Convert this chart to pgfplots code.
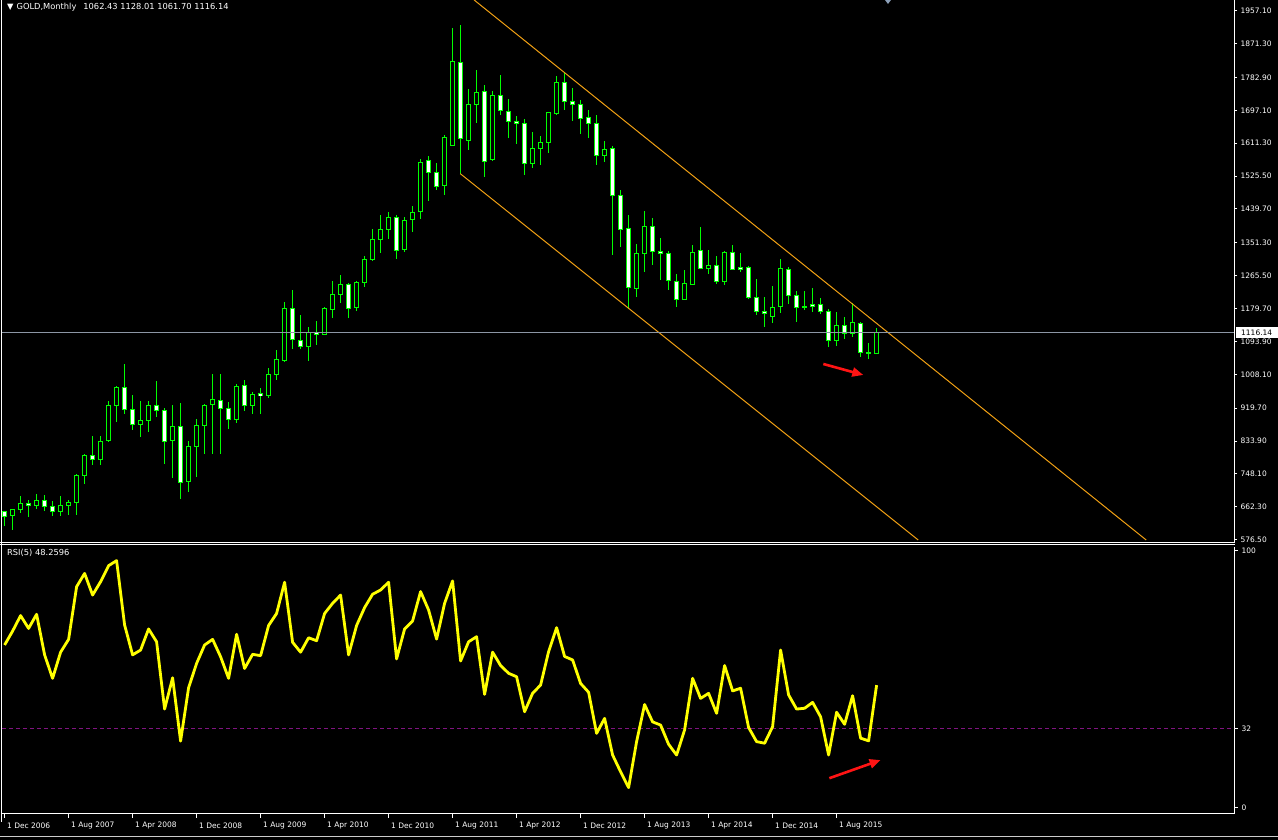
\documentclass[border=0pt]{standalone}
\usepackage{pgfplots}
\pgfplotsset{compat=1.18}
\usepackage{pgfplotstable}
\usepackage{fontspec}
\setmainfont{DejaVu Sans}
\usetikzlibrary{arrows.meta}

\definecolor{candle}{RGB}{0,255,0}
\definecolor{trend}{RGB}{240,160,20}
\definecolor{hline}{RGB}{140,150,165}
\definecolor{rsil}{RGB}{255,255,0}
\definecolor{lvl}{RGB}{128,20,128}
\definecolor{arrowred}{RGB}{255,20,20}
\definecolor{tri}{RGB}{140,160,185}
\newcommand\mtfont{\fontsize{7.5}{9}\selectfont}
\newcommand\ttlfont{\fontsize{8.3}{10}\selectfont}

\pgfplotstableread{
i o h l c
0 649.7 651.0 613.1 638.3
1 640.0 656.5 602.0 655.7
2 655.7 690.5 645.3 671.4
3 671.4 680.0 634.9 666.2
4 666.2 695.8 657.5 679.2
5 679.2 693.0 652.3 662.7
6 664.4 677.5 638.3 649.7
7 649.7 690.5 638.3 667.0
8 665.3 680.0 641.0 674.0
9 673.1 748.0 641.0 744.5
10 743.6 799.0 721.9 796.7
11 796.7 847.1 772.3 785.4
12 785.4 847.0 772.0 833.2
13 835.0 938.5 832.0 927.2
14 926.3 977.6 884.5 975.0
15 974.2 1035.0 904.6 916.7
16 916.7 954.2 862.8 877.6
17 876.7 938.5 845.4 888.0
18 888.0 938.5 858.5 927.2
19 927.2 990.7 895.9 914.1
20 914.1 919.3 774.9 833.2
21 835.0 928.0 738.4 872.4
22 872.4 934.0 683.6 725.3
23 728.0 834.0 701.9 820.2
24 819.3 890.6 741.0 875.0
25 874.1 930.7 801.0 927.2
26 928.9 1009.0 801.0 942.8
27 940.2 1009.0 801.0 918.5
28 919.4 935.9 865.4 890.6
29 890.6 982.0 881.9 976.8
30 979.4 992.4 913.3 927.2
31 927.2 961.1 905.4 955.9
32 957.6 971.5 905.4 953.3
33 953.3 1023.8 947.2 1008.0
34 1008.0 1071.6 993.0 1047.2
35 1043.7 1196.9 1040.0 1180.4
36 1180.4 1228.2 1074.2 1099.4
37 1096.8 1162.9 1074.2 1080.3
38 1080.3 1131.6 1043.7 1117.7
39 1117.7 1147.3 1084.7 1112.5
40 1112.5 1183.0 1112.0 1180.4
41 1177.7 1251.7 1156.0 1216.9
42 1216.9 1267.4 1195.0 1243.0
43 1243.0 1245.6 1156.0 1180.4
44 1183.0 1251.7 1174.3 1248.2
45 1248.2 1316.9 1236.0 1308.2
46 1308.2 1387.4 1304.8 1360.4
47 1360.4 1424.0 1325.6 1386.5
48 1386.5 1431.8 1360.4 1417.9
49 1417.9 1423.0 1308.2 1331.7
50 1334.3 1417.9 1326.5 1410.0
51 1412.6 1446.6 1380.4 1430.9
52 1433.5 1570.1 1412.6 1561.4
53 1566.6 1578.8 1461.4 1535.3
54 1535.3 1558.8 1490.0 1498.8
55 1500.5 1632.8 1476.2 1626.7
56 1605.0 1912.0 1603.0 1825.0
57 1822.4 1919.8 1531.8 1624.0
58 1618.8 1752.0 1593.6 1712.8
59 1712.8 1801.5 1664.0 1744.1
60 1746.7 1762.4 1522.3 1564.0
61 1568.4 1747.6 1565.8 1736.3
62 1736.3 1788.5 1685.0 1697.1
63 1694.5 1725.8 1625.8 1668.4
64 1668.4 1681.5 1610.1 1663.2
65 1663.2 1673.6 1527.5 1558.8
66 1558.8 1639.7 1545.7 1597.9
67 1597.9 1629.3 1553.6 1613.6
68 1613.6 1693.0 1584.9 1691.9
69 1689.3 1786.7 1684.1 1770.2
70 1770.2 1793.7 1697.1 1720.6
71 1720.6 1754.6 1670.2 1712.8
72 1712.8 1723.2 1634.5 1676.3
73 1678.9 1697.1 1624.0 1663.2
74 1663.2 1684.1 1553.6 1579.7
75 1579.7 1616.2 1561.4 1595.3
76 1598.0 1604.9 1320.4 1475.3
77 1475.3 1488.3 1339.6 1386.5
78 1389.2 1423.0 1179.0 1235.2
79 1232.6 1347.4 1209.0 1323.9
80 1323.9 1433.5 1274.3 1394.4
81 1394.4 1415.3 1292.6 1329.1
82 1329.1 1363.0 1253.4 1323.9
83 1323.9 1329.1 1227.3 1253.4
84 1250.8 1269.0 1183.0 1203.8
85 1203.8 1279.5 1203.0 1245.6
86 1243.0 1344.8 1240.4 1326.5
87 1331.7 1391.8 1282.1 1284.8
88 1284.8 1331.7 1269.0 1292.6
89 1292.6 1316.0 1243.0 1250.8
90 1250.8 1329.1 1240.4 1326.5
91 1326.5 1344.8 1280.0 1282.1
92 1287.4 1323.9 1274.3 1282.1
93 1287.4 1290.0 1203.8 1209.0
94 1209.0 1256.0 1162.0 1172.5
95 1172.5 1209.0 1132.5 1167.3
96 1159.5 1237.8 1142.9 1183.0
97 1185.6 1308.2 1167.3 1284.8
98 1282.1 1287.4 1190.8 1214.3
99 1214.3 1224.7 1143.8 1183.0
100 1185.6 1224.7 1175.1 1183.0
101 1190.8 1232.6 1169.9 1185.6
102 1190.8 1206.5 1164.7 1172.5
103 1172.5 1177.7 1078.6 1096.8
104 1096.8 1170.0 1081.2 1136.0
105 1136.0 1156.9 1099.4 1115.1
106 1115.1 1193.4 1104.7 1143.8
107 1141.2 1143.8 1052.5 1065.5
108 1065.5 1089.0 1047.2 1062.9
109 1062.43 1128.01 1061.70 1116.14
}\gold

\pgfplotstableread{
i r
0 63.3
1 68.5
2 74.3
3 69.5
4 74.8
5 59.6
6 50.8
7 60.6
8 65.4
9 85.1
10 90.1
11 82.0
12 87.0
13 93.0
14 94.9
15 70.8
16 59.6
17 61.4
18 69.3
19 64.5
20 39.3
21 51.0
22 27.3
23 47.3
24 56.4
25 63.3
26 65.4
27 58.9
28 50.8
29 67.3
30 54.5
31 59.8
32 59.3
33 70.6
34 75.1
35 86.8
36 64.3
37 60.6
38 66.0
39 64.9
40 75.1
41 78.9
42 82.0
43 59.6
44 70.6
45 77.3
46 82.3
47 83.9
48 86.8
49 58.1
50 69.3
51 72.3
52 83.3
53 76.4
54 65.5
55 78.9
56 87.3
57 57.3
58 64.5
59 66.4
60 44.8
61 60.6
62 55.6
63 52.7
64 51.4
65 38.3
66 45.2
67 48.3
68 60.8
69 69.8
70 59.0
71 57.7
72 48.9
73 45.6
74 30.2
75 35.8
76 22.1
77 15.8
78 9.9
79 27.1
80 41.0
81 34.5
82 33.3
83 26.1
84 22.1
85 31.5
86 50.8
87 43.3
88 45.2
89 37.7
90 55.6
91 46.1
92 47.1
93 32.4
94 27.1
95 26.5
96 32.7
97 61.4
98 44.6
99 39.3
100 39.6
101 41.8
102 36.4
103 22.1
104 38.1
105 33.6
106 44.3
107 28.4
108 27.4
109 48.26
}\rsi

\begin{document}
\begin{tikzpicture}[x=1pt,y=1pt]
\fill[black] (0,0) rectangle (1278,840);

% ---------------- main price panel ----------------
\begin{axis}[
  at={(2pt,298pt)}, anchor=south west, scale only axis,
  width=1232pt, height=542pt,
  xmin=-0.325, xmax=153.675, ymin=570.5, ymax=1985.1,
  axis x line=none, axis y line*=right,
  y axis line style={white, line width=1pt},
  xtick=\empty,
  ytick={576.5,662.3,748.1,833.9,919.7,1008.1,1093.9,1179.7,1265.5,1351.3,1439.7,1525.5,1611.3,1697.1,1782.9,1871.3,1957.1},
  yticklabels={576.50,662.30,748.10,833.90,919.70,1008.10,1093.90,1179.70,1265.50,1351.30,1439.70,1525.50,1611.30,1697.10,1782.90,1871.30,1957.10},
  tick align=outside, major tick length=3pt,
  tick style={white, line width=1pt},
  yticklabel style={font=\mtfont, text=white},
  clip mode=individual,
]
% wicks
\addplot[draw=none, mark=none, forget plot,
  error bars/.cd, y dir=both, y explicit, error mark=none,
  error bar style={draw=candle, line width=1pt}]
  table[x=i, y expr={(\thisrow{h}+\thisrow{l})/2}, y error expr={(\thisrow{h}-\thisrow{l})/2}] {\gold};
% body outlines
\addplot[draw=none, mark=none, forget plot,
  error bars/.cd, y dir=both, y explicit, error mark=none,
  error bar style={draw=candle, line width=5pt}]
  table[x=i, y expr={(\thisrow{o}+\thisrow{c})/2}, y error expr={abs(\thisrow{c}-\thisrow{o})/2+1.3}] {\gold};
% bull interiors (black)
\addplot[draw=none, mark=none, forget plot,
  restrict expr to domain={\thisrow{c}-\thisrow{o}}{2.7:100000},
  error bars/.cd, y dir=both, y explicit, error mark=none,
  error bar style={draw=black, line width=3pt}]
  table[x=i, y expr={(\thisrow{o}+\thisrow{c})/2}, y error expr={abs(\thisrow{c}-\thisrow{o})/2-1.3}] {\gold};
% bear interiors (white)
\addplot[draw=none, mark=none, forget plot,
  restrict expr to domain={\thisrow{c}-\thisrow{o}}{-100000:-2.7},
  error bars/.cd, y dir=both, y explicit, error mark=none,
  error bar style={draw=white, line width=3pt}]
  table[x=i, y expr={(\thisrow{o}+\thisrow{c})/2}, y error expr={abs(\thisrow{c}-\thisrow{o})/2-1.3}] {\gold};
% trend channel
\addplot[trend, line width=1pt, mark=none, forget plot] coordinates {(58.69,1985.1) (142.7,575.7)};
\addplot[trend, line width=1pt, mark=none, forget plot] coordinates {(56.96,1531.8) (114.2,575.7)};
% last price line
\addplot[hline, line width=1pt, mark=none, forget plot] coordinates {(-0.325,1116.14) (153.675,1116.14)};
% red arrow
\addplot[arrowred, line width=2.6pt, mark=none, forget plot, -{Triangle[length=11pt,width=9pt]}]
  coordinates {(102.34,1035.1) (107.34,1006.4)};
\coordinate (lastp) at (axis cs:153.675,1116.14);
\end{axis}

% ---------------- RSI panel ----------------
\begin{axis}[
  at={(2pt,26pt)}, anchor=south west, scale only axis,
  width=1232pt, height=267pt,
  xmin=-0.325, xmax=153.675, ymin=0, ymax=100,
  axis x line*=bottom, axis y line*=right,
  axis line style={white, line width=1pt},
  ytick={2.25,32,98.5}, yticklabels={0,32,100},
  xtick={0,8,16,24,32,40,48,56,64,72,80,88,96,104},
  xticklabels={1 Dec 2006,1 Aug 2007,1 Apr 2008,1 Dec 2008,1 Aug 2009,1 Apr 2010,1 Dec 2010,1 Aug 2011,1 Apr 2012,1 Dec 2012,1 Aug 2013,1 Apr 2014,1 Dec 2014,1 Aug 2015},
  tick align=outside, major tick length=4pt,
  tick style={white, line width=1pt},
  yticklabel style={font=\mtfont, text=white},
  xticklabel style={font=\mtfont, text=white, anchor=west, xshift=-1pt, yshift=-8pt},
  clip mode=individual,
]
\addplot[lvl, line width=1pt, dash pattern=on 4pt off 3pt, mark=none, forget plot]
  coordinates {(-0.325,32) (153.675,32)};
\addplot[rsil, line width=2.8pt, line join=round, mark=none, forget plot] table[x=i, y=r] {\rsi};
\addplot[arrowred, line width=2.6pt, mark=none, forget plot, -{Triangle[length=11pt,width=9pt]}]
  coordinates {(103.09,13.4) (109.5,20.2)};
\end{axis}

% frame lines
\draw[white, line width=1pt] (1.5,840) -- (1.5,18);
\draw[white, line width=1pt] (0,297.5) -- (1235,297.5);
\draw[white, line width=1pt] (0,295) -- (1235,295);
\draw[white!80!black, line width=1pt] (0,3) -- (1278,3);
\fill[tri] (885,840) -- (891,840) -- (888,836) -- cycle;

% last price box
\node[fill=white, text=black, font=\mtfont, inner sep=0pt, minimum width=42pt, minimum height=11pt, anchor=west] at ([xshift=1.5pt]lastp) {1116.14};

% titles
\node[anchor=west, inner sep=0pt, text=white, font=\ttlfont] at (7,833)
  {\char"25BC\hspace{3pt}GOLD,Monthly\hspace{7pt}1062.43 1128.01 1061.70 1116.14};
\node[anchor=west, inner sep=0pt, text=white, font=\ttlfont] at (7,287) {RSI(5) 48.2596};

\pgfresetboundingbox
\path[use as bounding box] (0,0) rectangle (1278,840);
\end{tikzpicture}
\end{document}
